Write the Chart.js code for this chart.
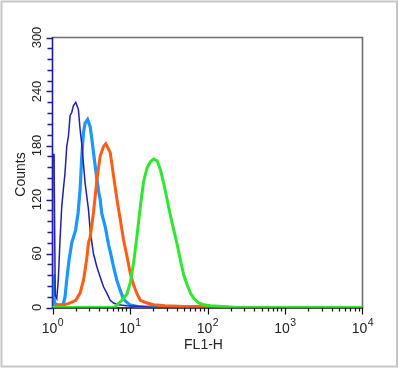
<!DOCTYPE html>
<html><head><meta charset="utf-8">
<script src="https://cdn.jsdelivr.net/npm/chart.js@4.4.1/dist/chart.umd.min.js"></script>
<style>html,body{margin:0;padding:0;background:#fff}canvas{display:block}</style>
</head><body>
<canvas id="c" width="399" height="369"></canvas>
<script>
// ---- data (x in decades of FL1-H, i.e. log10 value; y = counts) ----
const yTickLabels = [0, 60, 120, 180, 240, 300];
const xDecades = [0, 1, 2, 3, 4];
const xAxisTitle = 'FL1-H';
const yAxisTitle = 'Counts';

const navyLog   = [0, 0, 0.02, 0.035, 0.055, 0.075, 0.097, 0.119, 0.140, 0.162, 0.184, 0.205, 0.227, 0.249, 0.269, 0.300, 0.334, 0.356, 0.378, 0.421, 0.464, 0.486, 0.528, 0.573, 0.615, 0.658, 0.701, 0.745, 0.788, 0.85, 0.96, 1.1, 1.3, 4];
const navyCount = [0, 170, 170, 14, 10, 31, 75, 112, 131, 150, 179, 190, 213, 217, 224, 228, 220, 198, 181, 138, 109, 86, 60, 45, 34, 23, 16, 8, 5, 3, 2, 1.5, 0, 0];

const lightLog   = [0, 0, 0.015, 0.025, 0.058, 0.136, 0.162, 0.184, 0.214, 0.249, 0.298, 0.330, 0.356, 0.378, 0.399, 0.421, 0.453, 0.486, 0.508, 0.551, 0.593, 0.615, 0.637, 0.680, 0.723, 0.745, 0.788, 0.831, 0.874, 0.918, 0.995, 1.1, 1.2, 1.5, 1.8, 2.2, 4];
const lightCount = [0, 35, 35, 5, 3, 3, 12, 31, 53, 72, 86, 105, 131, 168, 194, 205, 209, 201, 187, 157, 130, 120, 104, 90, 70, 62, 45, 30, 19, 9, 3, 1, 0.5, 1, 0.5, 0, 0];

const orangeLog   = [0, 0.05, 0.2, 0.30, 0.356, 0.399, 0.421, 0.443, 0.464, 0.486, 0.528, 0.573, 0.615, 0.658, 0.689, 0.745, 0.788, 0.832, 0.874, 0.917, 0.961, 1.004, 1.047, 1.091, 1.133, 1.220, 1.306, 1.45, 1.7, 2.0, 2.3, 4];
const orangeCount = [0, 2, 4, 8, 16, 30, 42, 55, 72, 78, 105, 142, 168, 179, 182, 172, 146, 120, 98, 75, 57, 38, 25, 15, 8, 5, 3, 2, 1, 1, 0, 0];

const greenLog   = [0, 0.8, 0.832, 0.896, 0.961, 1.004, 1.047, 1.091, 1.133, 1.176, 1.220, 1.263, 1.306, 1.350, 1.393, 1.435, 1.479, 1.522, 1.565, 1.609, 1.652, 1.694, 1.738, 1.781, 1.824, 1.889, 1.953, 2.04, 2.2, 2.4, 4];
const greenCount = [0, 0, 3, 8, 15, 28, 50, 80, 112, 140, 155, 162, 165, 163, 153, 138, 120, 102, 86, 70, 52, 36, 25, 16, 10, 5, 3, 2, 1, 0, 0];

function pts(lg, ct){ return lg.map((l,i)=>({x: Math.pow(10,l), y: ct[i]})); }

const FONT = '"Liberation Sans", Arial, sans-serif';

const decor = {
  id: 'decor',
  beforeDatasetsDraw(chart){
    const ctx = chart.ctx, a = chart.chartArea;
    const xs = chart.scales.x, ys = chart.scales.y;
    ctx.save();
    // outer border
    ctx.strokeStyle = '#c6c6c6'; ctx.lineWidth = 2;
    ctx.strokeRect(1.5, 1.5, 395.5, 365);
    // frame top/right
    ctx.strokeStyle = '#6e6e6e'; ctx.lineWidth = 1.6;
    ctx.beginPath();
    ctx.moveTo(a.left, a.top); ctx.lineTo(a.right, a.top); ctx.lineTo(a.right, a.bottom + 1);
    ctx.stroke();
    // x axis line + ticks
    ctx.strokeStyle = '#111'; ctx.lineWidth = 1.4;
    ctx.beginPath(); ctx.moveTo(a.left, a.bottom + 0.5); ctx.lineTo(a.right, a.bottom + 0.5); ctx.stroke();
    ctx.lineWidth = 1.2;
    ctx.beginPath();
    for (let d = 0; d < 4; d++) {
      for (let m = 1; m <= 9; m++) {
        const px = Math.round(xs.getPixelForValue(m * Math.pow(10, d))) + 0.5;
        const len = m === 1 ? 7 : 4;
        ctx.moveTo(px, a.bottom); ctx.lineTo(px, a.bottom + len);
      }
    }
    const pend = Math.round(xs.getPixelForValue(10000)) - 0.5;
    ctx.moveTo(pend, a.bottom); ctx.lineTo(pend, a.bottom + 7);
    ctx.stroke();
    // y axis line + ticks (navy)
    ctx.strokeStyle = '#1c1c9c'; ctx.lineWidth = 1.6;
    ctx.beginPath(); ctx.moveTo(a.left, a.top - 0.5); ctx.lineTo(a.left, a.bottom + 1); ctx.stroke();
    ctx.lineWidth = 1.3;
    ctx.beginPath();
    for (let v = 0; v <= 300; v += 12) {
      const py = Math.round(ys.getPixelForValue(v)) + 0.5;
      const len = (v % 60 === 0) ? 6 : 5;
      ctx.moveTo(a.left, py); ctx.lineTo(a.left - len, py);
    }
    ctx.stroke();
    // y tick labels (rotated)
    ctx.fillStyle = '#222';
    ctx.font = '13px ' + FONT;
    ctx.textAlign = 'center'; ctx.textBaseline = 'alphabetic';
    yTickLabels.forEach(v => {
      const py = ys.getPixelForValue(v);
      ctx.save(); ctx.translate(41, py); ctx.rotate(-Math.PI/2);
      ctx.fillText(String(v), 0, 0); ctx.restore();
    });
    // y title
    ctx.font = '14px ' + FONT;
    ctx.save(); ctx.translate(25, (a.top + a.bottom)/2 + 2); ctx.rotate(-Math.PI/2);
    ctx.fillText(yAxisTitle, 0, 0); ctx.restore();
    // x tick labels with superscripts
    xDecades.forEach(d => {
      const px = xs.getPixelForValue(Math.pow(10, d));
      ctx.font = '14px ' + FONT;
      const wb = ctx.measureText('10').width;
      ctx.font = '10.5px ' + FONT;
      const we = ctx.measureText(String(d)).width;
      const x0 = px - (wb + we)/2;
      ctx.textAlign = 'left';
      ctx.font = '14px ' + FONT;
      ctx.fillText('10', x0, 333);
      ctx.font = '10.5px ' + FONT;
      ctx.fillText(String(d), x0 + wb + 0.5, 326);
    });
    // x title
    ctx.textAlign = 'center';
    ctx.font = '14px ' + FONT;
    ctx.fillText(xAxisTitle, (a.left + a.right)/2 - 4, 349);
    ctx.restore();
  }
};

new Chart(document.getElementById('c'), {
  type: 'line',
  data: {
    datasets: [
      { label: 'green',  data: pts(greenLog, greenCount),   borderColor: '#2ee82e', borderWidth: 3 },
      { label: 'orange', data: pts(orangeLog, orangeCount), borderColor: '#ff5c16', borderWidth: 3 },
      { label: 'navy',   data: pts(navyLog, navyCount),     borderColor: '#1f1fb0', borderWidth: 1.5 },
      { label: 'light',  data: pts(lightLog, lightCount),   borderColor: '#1e96ff', borderWidth: 3.2 }
    ]
  },
  options: {
    responsive: false, animation: false, devicePixelRatio: 1,
    parsing: true,
    elements: { point: { radius: 0 }, line: { tension: 0, fill: false, borderJoinStyle: 'miter' } },
    layout: { padding: { top: 37.5, right: 36.5, left: 0, bottom: 0 } },
    plugins: { legend: { display: false }, tooltip: { enabled: false } },
    scales: {
      x: { type: 'logarithmic', min: 1, max: 10000, grid: { display: false }, border: { display: false },
           ticks: { display: false }, afterFit(s){ s.height = 61.5; } },
      y: { type: 'linear', min: 0, max: 300, grid: { display: false }, border: { display: false },
           ticks: { display: false }, afterFit(s){ s.width = 52.5; } }
    }
  },
  plugins: [decor]
});
</script>
</body></html>
